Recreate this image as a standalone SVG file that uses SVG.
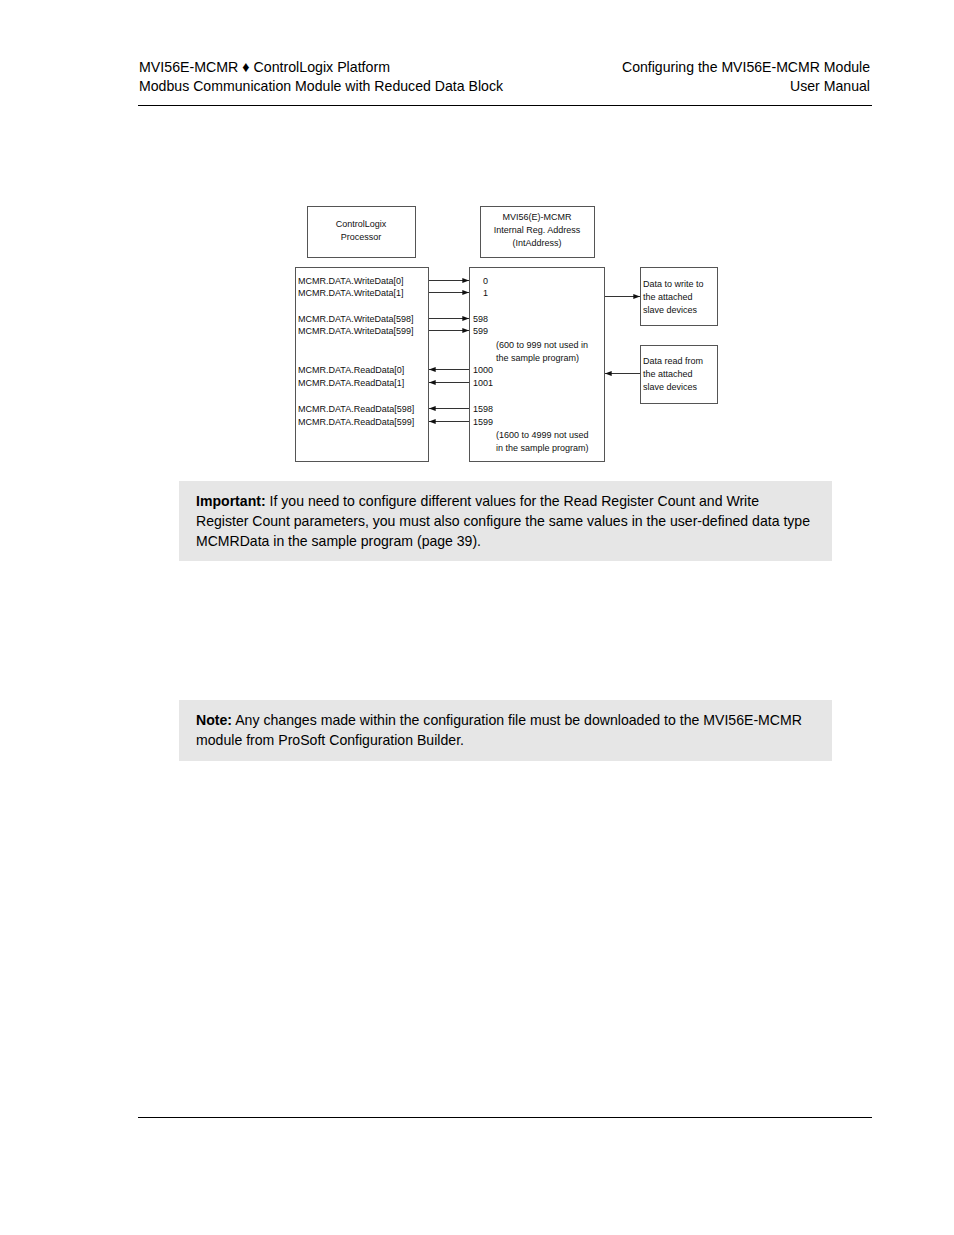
<svg xmlns="http://www.w3.org/2000/svg" width="954" height="1235" viewBox="0 0 954 1235">
<defs>
<style>
.hdr{font-family:"Liberation Sans",Arial,sans-serif;font-size:15px;fill:#000}
.body{font-family:"Liberation Sans",Arial,sans-serif;font-size:15px;fill:#000}
.d{font-family:"Liberation Sans",Arial,sans-serif;font-size:9px;fill:#111}
.box{fill:#fff;stroke:#555;stroke-width:1}
.con{stroke:#333;stroke-width:1;fill:none}
.note{fill:#e6e6e6}
</style>
<marker id="ah" viewBox="0 0 8 6" refX="8" refY="3" markerWidth="7" markerHeight="5" markerUnits="userSpaceOnUse" orient="auto">
<path d="M0,0 L8,3 L0,6 Z" fill="#111"/>
</marker>
</defs>
<rect width="954" height="1235" fill="#fff"/>

<g id="header">
<text class="hdr" x="139" y="72" textLength="251" lengthAdjust="spacingAndGlyphs">MVI56E-MCMR ♦ ControlLogix Platform</text>
<text class="hdr" x="139" y="91" textLength="364" lengthAdjust="spacingAndGlyphs">Modbus Communication Module with Reduced Data Block</text>
<text class="hdr" x="622" y="72" textLength="248" lengthAdjust="spacingAndGlyphs">Configuring the MVI56E-MCMR Module</text>
<text class="hdr" x="790" y="91" textLength="80" lengthAdjust="spacingAndGlyphs">User Manual</text>
<line x1="138" y1="105.5" x2="872" y2="105.5" stroke="#000" stroke-width="1"/>
</g>

<g id="node-controllogix">
<rect class="box" x="307.5" y="206.5" width="108" height="51"/>
<text class="d" x="361" y="227" text-anchor="middle">ControlLogix</text>
<text class="d" x="361" y="240" text-anchor="middle">Processor</text>
</g>

<g id="node-mvi56">
<rect class="box" x="480.5" y="206.5" width="114" height="51"/>
<text class="d" x="537" y="220" text-anchor="middle">MVI56(E)-MCMR</text>
<text class="d" x="537" y="233" text-anchor="middle">Internal Reg. Address</text>
<text class="d" x="537" y="246" text-anchor="middle">(IntAddress)</text>
</g>

<g id="node-tags">
<rect class="box" x="295.5" y="267.5" width="133" height="194"/>
<text class="d" x="298" y="284">MCMR.DATA.WriteData[0]</text>
<text class="d" x="298" y="296">MCMR.DATA.WriteData[1]</text>
<text class="d" x="298" y="322">MCMR.DATA.WriteData[598]</text>
<text class="d" x="298" y="334">MCMR.DATA.WriteData[599]</text>
<text class="d" x="298" y="373">MCMR.DATA.ReadData[0]</text>
<text class="d" x="298" y="386">MCMR.DATA.ReadData[1]</text>
<text class="d" x="298" y="412">MCMR.DATA.ReadData[598]</text>
<text class="d" x="298" y="425">MCMR.DATA.ReadData[599]</text>
</g>

<g id="node-registers">
<rect class="box" x="469.5" y="267.5" width="135" height="194"/>
<text class="d" x="483" y="284">0</text>
<text class="d" x="483" y="296">1</text>
<text class="d" x="473" y="322">598</text>
<text class="d" x="473" y="334">599</text>
<text class="d" x="496" y="348">(600 to 999 not used in</text>
<text class="d" x="496" y="361">the sample program)</text>
<text class="d" x="473" y="373">1000</text>
<text class="d" x="473" y="386">1001</text>
<text class="d" x="473" y="412">1598</text>
<text class="d" x="473" y="425">1599</text>
<text class="d" x="496" y="438">(1600 to 4999 not used</text>
<text class="d" x="496" y="451">in the sample program)</text>
</g>

<g id="node-write-out">
<rect class="box" x="640.5" y="267.5" width="77" height="58"/>
<text class="d" x="643" y="287">Data to write to</text>
<text class="d" x="643" y="300">the attached</text>
<text class="d" x="643" y="313">slave devices</text>
</g>

<g id="node-read-in">
<rect class="box" x="640.5" y="345.5" width="77" height="58"/>
<text class="d" x="643" y="364">Data read from</text>
<text class="d" x="643" y="377">the attached</text>
<text class="d" x="643" y="390">slave devices</text>
</g>

<g id="connectors">
<line class="con" x1="429" y1="280.5" x2="469" y2="280.5" marker-end="url(#ah)"/>
<line class="con" x1="429" y1="292.5" x2="469" y2="292.5" marker-end="url(#ah)"/>
<line class="con" x1="429" y1="318.5" x2="469" y2="318.5" marker-end="url(#ah)"/>
<line class="con" x1="429" y1="330.5" x2="469" y2="330.5" marker-end="url(#ah)"/>
<line class="con" x1="469" y1="369.5" x2="429" y2="369.5" marker-end="url(#ah)"/>
<line class="con" x1="469" y1="382.5" x2="429" y2="382.5" marker-end="url(#ah)"/>
<line class="con" x1="469" y1="408.5" x2="429" y2="408.5" marker-end="url(#ah)"/>
<line class="con" x1="469" y1="421.5" x2="429" y2="421.5" marker-end="url(#ah)"/>
<line class="con" x1="605" y1="296.5" x2="640" y2="296.5" marker-end="url(#ah)"/>
<line class="con" x1="640" y1="373.5" x2="605" y2="373.5" marker-end="url(#ah)"/>
</g>

<g id="note-important">
<rect class="note" x="179" y="481" width="653" height="80"/>
<text class="body" x="196" y="506" textLength="563" lengthAdjust="spacingAndGlyphs"><tspan font-weight="bold">Important:</tspan> If you need to configure different values for the Read Register Count and Write</text>
<text class="body" x="196" y="526" textLength="614" lengthAdjust="spacingAndGlyphs">Register Count parameters, you must also configure the same values in the user-defined data type</text>
<text class="body" x="196" y="546" textLength="285" lengthAdjust="spacingAndGlyphs">MCMRData in the sample program (page 39).</text>
</g>

<g id="note-note">
<rect class="note" x="179" y="700" width="653" height="61"/>
<text class="body" x="196" y="725" textLength="606" lengthAdjust="spacingAndGlyphs"><tspan font-weight="bold">Note:</tspan> Any changes made within the configuration file must be downloaded to the MVI56E-MCMR</text>
<text class="body" x="196" y="745" textLength="268" lengthAdjust="spacingAndGlyphs">module from ProSoft Configuration Builder.</text>
</g>

<g id="footer">
<line x1="138" y1="1117.5" x2="872" y2="1117.5" stroke="#000" stroke-width="1"/>
</g>
</svg>
